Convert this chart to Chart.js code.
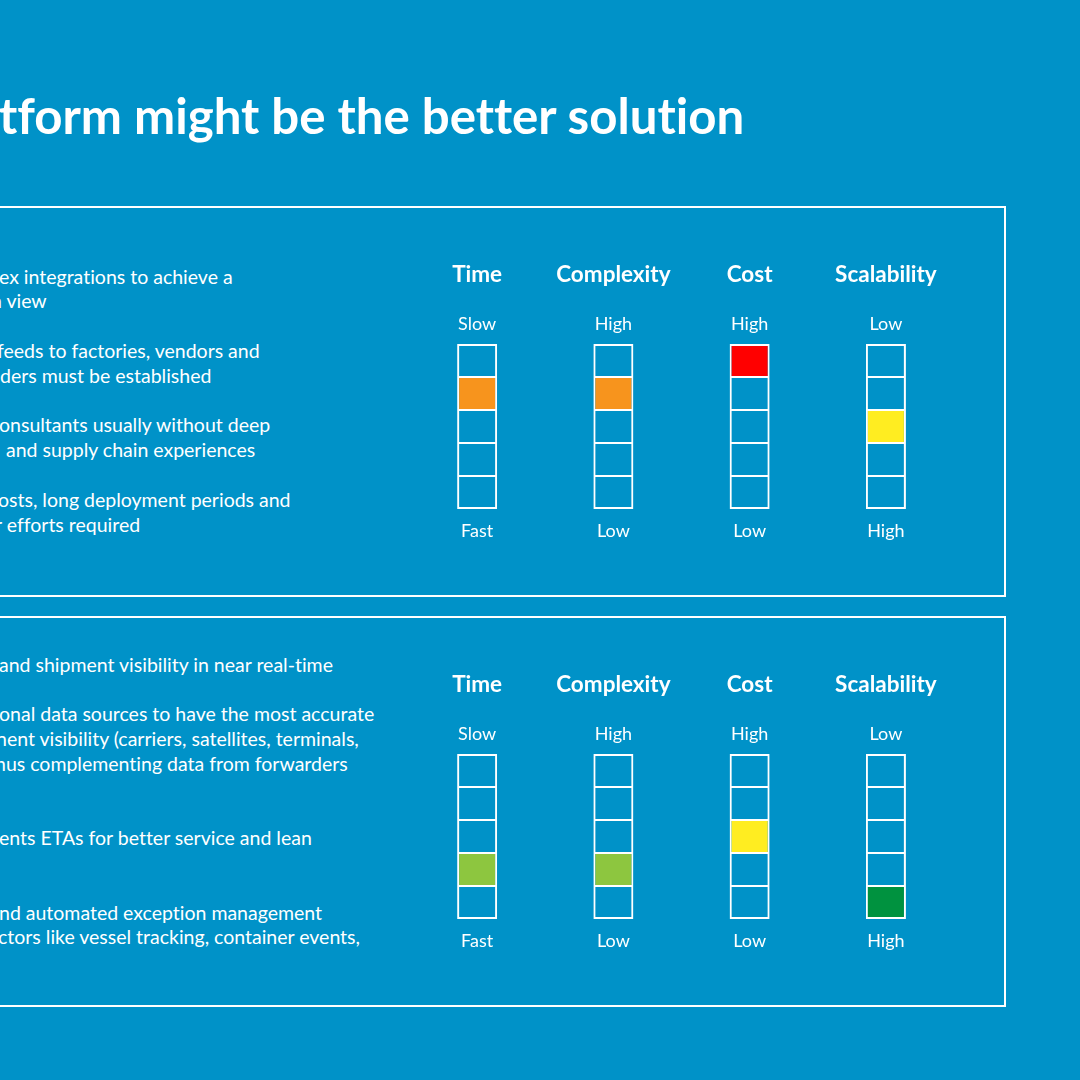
<!DOCTYPE html>
<html>
<head>
<meta charset="utf-8">
<script src="https://cdn.jsdelivr.net/npm/chart.js@4"></script>
<style>
  html, body { margin: 0; padding: 0; }
  body {
    width: 1080px; height: 1080px; overflow: hidden; position: relative;
    background: #0092c8; color: #fff; font-family: Lato, "Open Sans", sans-serif;
    font-variant-ligatures: none;
  }
  .title {
    position: absolute; left: -1px; top: 90px; white-space: nowrap;
    font-size: 49.2px; line-height: 50px; font-weight: 700;
  }
  .box {
    position: absolute; left: -20px; width: 1026px; height: 391px;
    box-sizing: border-box; border: 2px solid #fff;
  }
  .line {
    position: absolute; white-space: nowrap;
    font-size: 19.5px; line-height: 25px;
  }
  canvas.gauge { position: absolute; left: 409px; }
</style>
</head>
<body>
<div class="title">tform might be the better solution</div>

<div class="box" style="top:206px"></div>
<div class="box" style="top:616px"></div>

<!-- box 1 text -->
<div class="line" style="left:-1px;top:264px">ex integrations to achieve a</div>
<div class="line" style="left:-9px;top:288px">n view</div>
<div class="line" style="left:-3px;top:338px">feeds to factories, vendors and</div>
<div class="line" style="left:0px;top:363px">ders must be established</div>
<div class="line" style="left:-1px;top:412px">onsultants usually without deep</div>
<div class="line" style="left:6px;top:437px">and supply chain experiences</div>
<div class="line" style="left:-2px;top:487px">osts, long deployment periods and</div>
<div class="line" style="left:-5px;top:512px">r efforts required</div>

<!-- box 2 text -->
<div class="line" style="left:-1px;top:652px">and shipment visibility in near real-time</div>
<div class="line" style="left:-1px;top:701px">onal data sources to have the most accurate</div>
<div class="line" style="left:-4px;top:726px">nent visibility (carriers, satellites, terminals,</div>
<div class="line" style="left:-5px;top:751px">hus complementing data from forwarders</div>
<div class="line" style="left:-1px;top:825px">ents ETAs for better service and lean</div>
<div class="line" style="left:-1px;top:900px">nd automated exception management</div>
<div class="line" style="left:-2px;top:924px">ctors like vessel tracking, container events,</div>

<canvas class="gauge" id="gaugeTop" width="545" height="320" style="top:250px"></canvas>
<canvas class="gauge" id="gaugeBottom" width="545" height="320" style="top:660px"></canvas>

<script>
// gauge categories and end labels
const dimensions = ["Time", "Complexity", "Cost", "Scalability"];
const topEndLabels = ["Slow", "High", "High", "Low"];
const bottomEndLabels = ["Fast", "Low", "Low", "High"];

// filled cell per gauge, 1 = bottom cell ... 5 = top cell
const customLevels = [4, 4, 5, 3];
const platformLevels = [2, 2, 3, 1];

// colour of each cell position, bottom (1) to top (5)
const cellColors = ["#00923f", "#8dc63f", "#ffed21", "#f7941d", "#ff0000"];
const cellCount = 5;

const gaugeLabels = {
  id: "gaugeLabels",
  afterDraw(chart) {
    const c = chart.ctx;
    const x = chart.scales.x;
    const area = chart.chartArea;
    c.save();
    c.fillStyle = "#fff";
    c.textAlign = "center";
    c.textBaseline = "alphabetic";
    dimensions.forEach((name, i) => {
      const px = x.getPixelForValue(i);
      c.font = "700 22.5px Lato";
      c.fillText(name, px, area.top - 62);
      c.font = "400 18px Lato";
      c.fillText(topEndLabels[i], px, area.top - 14.5);
      c.fillText(bottomEndLabels[i], px, area.bottom + 28);
    });
    c.restore();
  }
};

function makeGauge(canvas, levels) {
  const datasets = [];
  for (let cell = 1; cell <= cellCount; cell++) {
    datasets.push({
      data: dimensions.map(() => 1),
      backgroundColor: levels.map(l => l === cell ? cellColors[cell - 1] : "rgba(0,0,0,0)"),
      borderColor: "#fff",
      borderWidth: {
        top: cell === cellCount ? 2 : 1,
        bottom: cell === 1 ? 2 : 1,
        left: 2,
        right: 2
      },
      borderSkipped: false,
      inflateAmount: 0,
      barThickness: 40
    });
  }
  return new Chart(canvas, {
    type: "bar",
    data: { labels: dimensions, datasets: datasets },
    options: {
      responsive: false,
      animation: false,
      devicePixelRatio: 1,
      layout: { padding: { top: 94, bottom: 61, left: 0, right: 0 } },
      plugins: { legend: { display: false }, tooltip: { enabled: false } },
      scales: {
        x: { stacked: true, display: false },
        y: { stacked: true, display: false, min: 0, max: cellCount }
      }
    },
    plugins: [gaugeLabels]
  });
}

makeGauge(document.getElementById("gaugeTop"), customLevels);
makeGauge(document.getElementById("gaugeBottom"), platformLevels);
</script>
</body>
</html>
